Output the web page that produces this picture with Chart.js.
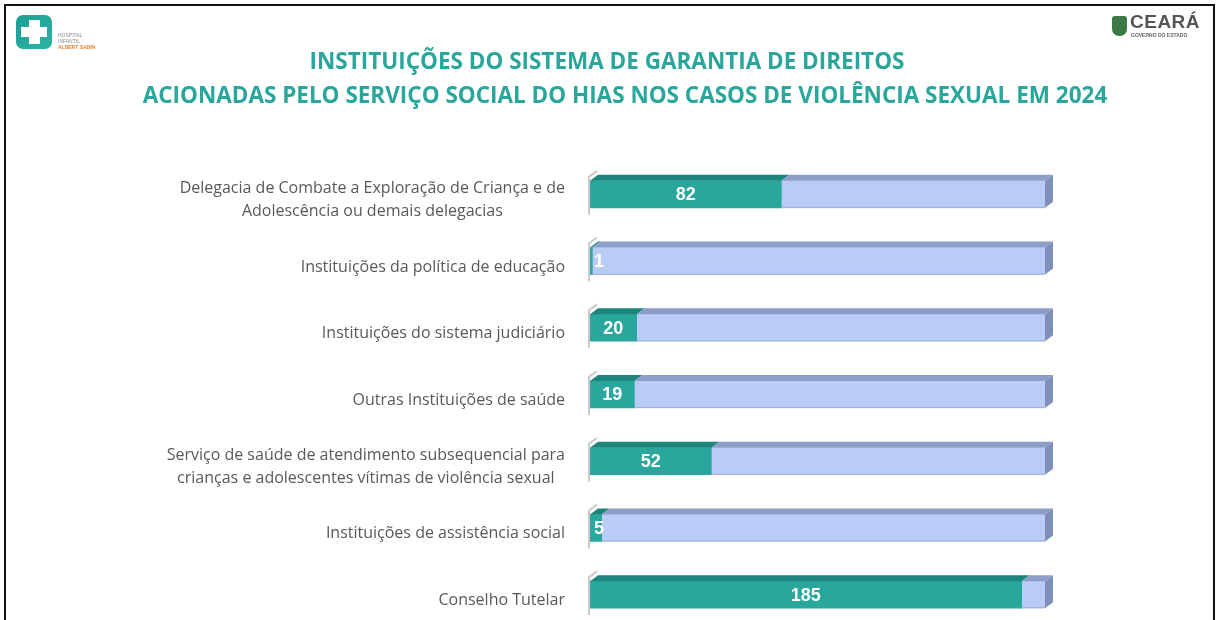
<!DOCTYPE html>
<html>
<head>
<meta charset="utf-8">
<script src="https://cdn.jsdelivr.net/npm/chart.js@4"></script>
<style>
body { margin: 0; overflow: hidden; background: #fff; font-family: 'Open Sans', sans-serif; }
#frame { position: absolute; left: 4px; top: 4px; width: 1211px; height: 700px; border: 2px solid #111; box-sizing: border-box; }
#wrap { position: absolute; left: 0; top: 0; width: 1220px; height: 650px; }
.logo-l { position: absolute; left: 16px; top: 15px; }
.logo-l .box { position: absolute; left: 0; top: 0; width: 36px; height: 34px; border-radius: 7px; background: linear-gradient(135deg, #1f9c92, #2bb5a4); }
.logo-l .v { position: absolute; left: 13px; top: 5px; width: 11px; height: 24px; background: #fff; }
.logo-l .h { position: absolute; left: 5px; top: 12px; width: 26px; height: 10px; background: #fff; }
.logo-l .txt { position: absolute; left: 42px; top: 17px; font: 5px 'Liberation Sans', sans-serif; line-height: 6px; color: #888; white-space: nowrap; }
.logo-l .txt b { color: #e8822f; }
.logo-r { position: absolute; left: 1112px; top: 14px; }
.logo-r .shield { position: absolute; left: 0; top: 2px; width: 15px; height: 20px; background: #3d7a45; border-radius: 3px 3px 7px 7px; }
.logo-r .name { position: absolute; left: 18px; top: -3px; font: bold 19px 'Liberation Sans', sans-serif; color: #555; letter-spacing: 0.5px; }
.logo-r .sub { position: absolute; left: 19px; top: 18px; font: bold 5px 'Liberation Sans', sans-serif; color: #666; white-space: nowrap; }
</style>
</head>
<body>
<div id="wrap"><canvas id="chart"></canvas></div>
<div id="frame"></div>
<div class="logo-l"><div class="box"></div><div class="v"></div><div class="h"></div>
  <div class="txt">HOSPITAL<br>INFANTIL<br><b>ALBERT SABIN</b></div></div>
<div class="logo-r"><div class="shield"></div><div class="name">CEARÁ</div><div class="sub">GOVERNO DO ESTADO</div></div>
<script>
// data
const categories = [
    ['Delegacia de Combate a Exploração de Criança e de', 'Adolescência ou demais delegacias'],
    ['Instituições da política de educação'],
    ['Instituições do sistema judiciário'],
    ['Outras Instituições de saúde'],
    ['Serviço de saúde de atendimento subsequencial para', 'crianças e adolescentes vítimas de violência sexual'],
    ['Instituições de assistência social'],
    ['Conselho Tutelar']
]
const values = [82, 1, 20, 19, 52, 5, 185]
const axis_max = 195
const rest = values.map(v => axis_max - v) // light part of each bar

const title_lines = [
    'INSTITUIÇÕES DO SISTEMA DE GARANTIA DE DIREITOS',
    'ACIONADAS PELO SERVIÇO SOCIAL DO HIAS NOS CASOS DE VIOLÊNCIA SEXUAL EM 2024'
]

const DX = 8, DY = 6 // 3d depth

const bars3d = {
    id: 'bars3d',
    afterDatasetsDraw(chart) {
        const ctx = chart.ctx
        const tops = ['#1d857b', '#8c9ec7']
        ctx.save()
        // small grey wall edge left of every bar
        chart.getDatasetMeta(0).data.forEach(bar => {
            const top = bar.y - bar.height / 2, bottom = bar.y + bar.height / 2
            ctx.strokeStyle = 'rgba(150,150,150,0.5)'
            ctx.lineWidth = 2
            ctx.beginPath()
            ctx.moveTo(bar.base - 1, bottom + 7)
            ctx.lineTo(bar.base - 1, top - 4)
            ctx.lineTo(bar.base + DX - 1, top - DY - 4)
            ctx.stroke()
        })
        for (let d = 0; d < 2; d++) {
            chart.getDatasetMeta(d).data.forEach(bar => {
                const top = bar.y - bar.height / 2, bottom = bar.y + bar.height / 2
                const x0 = Math.min(bar.base, bar.x), x1 = Math.max(bar.base, bar.x)
                ctx.fillStyle = tops[d]
                ctx.beginPath()
                ctx.moveTo(x0, top)
                ctx.lineTo(x0 + DX, top - DY)
                ctx.lineTo(x1 + DX, top - DY)
                ctx.lineTo(x1, top)
                ctx.closePath()
                ctx.fill()
                if (d === 1) {
                    ctx.fillStyle = '#7d8fba'
                    ctx.beginPath()
                    ctx.moveTo(x1, top)
                    ctx.lineTo(x1 + DX, top - DY)
                    ctx.lineTo(x1 + DX, bottom - DY)
                    ctx.lineTo(x1, bottom)
                    ctx.closePath()
                    ctx.fill()
                    ctx.strokeStyle = '#9cb0da'
                    ctx.lineWidth = 1
                    ctx.beginPath()
                    ctx.moveTo(x0, bottom - 0.5)
                    ctx.lineTo(x1, bottom - 0.5)
                    ctx.stroke()
                }
            })
        }
        // value labels
        ctx.font = "bold 18px 'Liberation Sans', Arial, sans-serif"
        ctx.fillStyle = '#fff'
        ctx.textAlign = 'center'
        ctx.textBaseline = 'middle'
        chart.getDatasetMeta(0).data.forEach((bar, i) => {
            const txt = String(values[i])
            const w = ctx.measureText(txt).width
            const x = Math.max((bar.base + bar.x) / 2, bar.base + w / 2 + 4)
            ctx.fillText(txt, x, bar.y + 1)
        })
        // category labels, lines centred on each other
        const yscale = chart.scales.y
        ctx.font = "16px 'Open Sans', sans-serif"
        ctx.fillStyle = '#595959'
        categories.forEach((lines, i) => {
            const y = yscale.getPixelForValue(i) + 6
            const widest = Math.max(...lines.map(l => ctx.measureText(l).width))
            const cx = chart.chartArea.left - 25 - widest / 2
            const lh = 23
            lines.forEach((l, k) => {
                ctx.fillText(l, cx, y + (k - (lines.length - 1) / 2) * lh)
            })
        })
        // title
        ctx.font = "bold 22.5px 'Open Sans', sans-serif"
        ctx.fillStyle = '#2aa69c'
        ctx.fillText(title_lines[0], 607, 63)
        ctx.fillText(title_lines[1], 625, 97)
        ctx.restore()
    }
}

const chart_instance = new Chart(document.getElementById('chart'), {
    type: 'bar',
    data: {
        labels: categories,
        datasets: [{
            data: values,
            backgroundColor: '#2aa79d',
            barThickness: 27
        }, {
            data: rest,
            backgroundColor: '#b8ccf6',
            barThickness: 27
        }]
    },
    options: {
        indexAxis: 'y',
        responsive: true,
        maintainAspectRatio: false,
        animation: false,
        layout: { padding: { left: 0, right: 175, top: 161, bottom: 22 } },
        scales: {
            x: { stacked: true, min: 0, max: axis_max, display: false },
            y: {
                stacked: true,
                grid: { display: false },
                border: { display: false },
                ticks: { display: false },
                afterFit: function(scale) { scale.width = 590 }
            }
        },
        plugins: {
            legend: { display: false },
            tooltip: { enabled: false },
            title: { display: false }
        }
    },
    plugins: [bars3d]
})
</script>
</body>
</html>
